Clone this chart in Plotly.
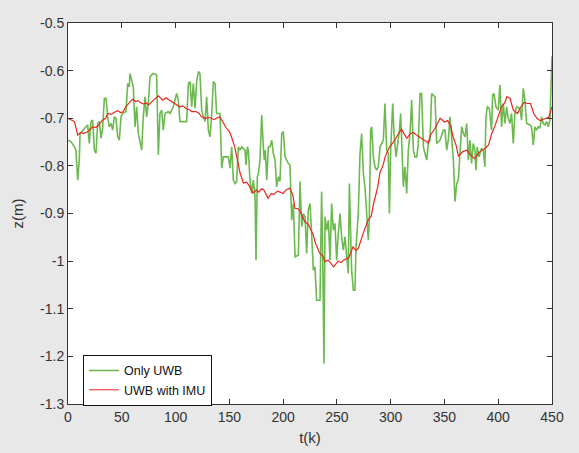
import plotly.graph_objects as go

# ---- data ----
uwb_k = [0, 2.8, 5.9, 7.4, 9.0, 10.5, 11.2, 13.6, 16.7, 18.3, 19.8, 21.4, 22.9, 24.5, 26.0, 27.6, 29.1, 30.7, 32.2,
         33.8, 35.3, 36.9, 38.4, 40.0, 41.5, 43.1, 44.6, 46.2, 47.7, 49.3, 50.8, 53.9, 55.5, 57.0,
         57.6, 60.7, 62.3, 63.8, 65.4, 68.5, 70.0, 71.6, 73.1, 74.7, 76.2, 77.8, 79.3, 82.4, 84.0, 85.5, 87.1,
         88.6, 90.2, 93.3,
         94.8, 97.9, 99.5, 101.0, 102.6, 104.1, 110.3, 111.9, 113.4, 115.0, 116.5, 118.1, 119.6, 121.2, 122.7,
         124.3, 125.8, 127.4, 128.9, 130.5, 132.0, 133.6, 135.1, 136.7, 138.2, 141.3, 142.9, 144.4, 149.1, 150.6,
         152.2, 153.7, 155.3, 156.8, 158.4, 159.9, 161.5, 164.6, 165.5, 166.8, 167.7, 169.2, 170.8, 172.3, 173.9,
         174.8, 176.0, 177.0, 178.5, 180.1, 181.6, 182.5, 183.5, 184.7, 186.3,
         187.8, 189.4, 190.9, 192.5, 194.0, 195.6, 197.1, 198.7, 200.2, 201.8, 204.9, 206.4, 208.0, 209.5, 211.1,
         214.2, 215.7, 217.3, 218.8, 220.4, 221.9, 223.4, 225.0, 226.5, 228.1, 229.6, 231.2, 234.3, 235.8, 236.8,
         238.0, 239.0, 240.5, 242.1, 243.6, 245.1, 246.7, 248.2, 249.8, 251.3, 252.9, 254.4, 256.0, 257.5, 259.1,
         260.6, 261.6, 262.8, 263.7, 265.3, 266.8, 267.8, 269.0, 269.9, 271.5, 273.0, 274.6, 276.1, 277.7, 279.2,
         280.1, 281.4,
         282.3, 283.9, 285.4, 287.0, 288.5, 290.1, 293.2, 294.7, 296.3, 297.8, 298.8, 300.0, 301.9, 303.1, 305.0,
         306.2, 308.1, 309.3, 310.6, 311.8, 313.3, 314.9, 316.4, 318.0, 319.5, 321.1, 322.6, 324.2, 325.7, 327.3,
         328.8, 330.4, 331.9, 333.5, 335.0, 336.6, 338.1, 341.2, 342.8, 345.9, 349.0, 350.5, 352.1, 353.6, 355.2,
         356.7, 358.3, 359.8, 361.4, 362.9, 364.5, 366.0, 367.6, 369.1, 370.7, 372.2,
         373.7, 375.2, 376.8, 378.3, 379.3, 380.5, 382.1, 384.5, 386.1, 387.6, 388.6, 389.8, 391.7, 392.9, 393.8,
         394.8, 396.0, 397.9, 400.0, 401.6, 403.1, 404.7, 406.2, 407.8, 409.3, 410.9, 412.4, 414.0, 415.5, 417.1,
         420.2, 421.7, 423.3, 424.8, 426.4, 429.5, 431.0, 432.6, 434.1, 435.7, 437.2, 438.8, 440.3, 441.9, 443.4,
         445.0, 446.5, 448.1, 449.0, 449.6, 450.0]
uwb_z = [-0.746, -0.749, -0.760, -0.767, -0.830, -0.788, -0.732, -0.725, -0.718, -0.714, -0.753, -0.707, -0.704,
         -0.767, -0.774, -0.711, -0.707, -0.742, -0.721, -0.658, -0.658, -0.697, -0.718, -0.711, -0.725, -0.697,
         -0.700, -0.739, -0.746, -0.697, -0.690, -0.686, -0.627, -0.634,
         -0.606, -0.634, -0.718, -0.676, -0.732, -0.767, -0.697, -0.655, -0.697, -0.669, -0.613, -0.609, -0.606,
         -0.609, -0.777, -0.690, -0.683, -0.725, -0.690, -0.686,
         -0.690, -0.676, -0.662, -0.648, -0.662, -0.707, -0.707, -0.627, -0.623, -0.676, -0.627, -0.679, -0.623,
         -0.602, -0.606, -0.683, -0.697, -0.707, -0.655, -0.725, -0.739, -0.693, -0.623, -0.627, -0.690, -0.690,
         -0.805, -0.781, -0.781, -0.805, -0.760, -0.830, -0.837, -0.833, -0.760, -0.767, -0.760, -0.767, -0.798,
         -0.760, -0.767, -0.830, -0.858, -0.830, -0.865, -0.998, -0.823, -0.816, -0.788, -0.693, -0.760, -0.788,
         -0.767, -0.830, -0.760,
         -0.760, -0.746, -0.774, -0.788, -0.844, -0.823, -0.833, -0.732, -0.728, -0.781, -0.795, -0.798, -0.914,
         -0.879, -0.991, -0.987, -0.833, -0.928, -0.900, -0.907, -0.984, -0.893, -0.879, -0.942, -1.019, -1.012,
         -1.082, -1.082, -0.854, -0.984, -1.215, -0.907, -0.935, -0.914, -0.998, -0.879, -0.935, -0.921, -0.998,
         -0.942, -0.900, -0.949, -0.977, -0.949, -0.998, -1.026, -0.837, -0.935, -1.019, -1.061, -1.061, -0.970,
         -0.921, -0.900, -0.774, -0.732, -0.816, -0.844, -0.900, -0.956, -0.914, -0.725,
         -0.718, -0.781, -0.802, -0.809, -0.802, -0.760, -0.746, -0.669, -0.767, -0.774, -0.900, -0.767, -0.669,
         -0.732, -0.781, -0.760, -0.725, -0.690, -0.753, -0.844, -0.802, -0.858, -0.767, -0.732, -0.662, -0.767,
         -0.781, -0.781, -0.753, -0.648, -0.648, -0.760, -0.774, -0.788, -0.753, -0.746, -0.648, -0.655, -0.753,
         -0.746, -0.725, -0.725, -0.767, -0.746, -0.697, -0.746, -0.788, -0.875, -0.837, -0.830, -0.767, -0.718,
         -0.732, -0.739, -0.711, -0.788,
         -0.746, -0.795, -0.753, -0.767, -0.809, -0.760, -0.781, -0.763, -0.767, -0.802, -0.697, -0.676, -0.679,
         -0.711, -0.725, -0.651, -0.648, -0.676, -0.683, -0.630, -0.718, -0.669, -0.711, -0.676, -0.700, -0.711,
         -0.690, -0.753, -0.690, -0.676, -0.679, -0.704, -0.637, -0.662, -0.711, -0.714, -0.718, -0.756, -0.718,
         -0.725, -0.718, -0.721, -0.697, -0.711, -0.714, -0.707, -0.718, -0.704, -0.655, -0.585, -0.570]

imu_k = [0, 3, 6, 9, 12, 14, 18, 21, 23, 26, 28, 32, 35, 37, 40, 42, 46, 49, 51, 54, 56, 60, 63, 65, 68, 70, 73,
         75, 79, 82, 84, 88, 91, 93, 96, 98, 101, 104, 107, 110, 113, 115, 119, 122, 124, 128, 131, 133, 136, 138,
         141, 144, 147, 150, 152, 155, 157, 160, 163, 166, 168, 172, 175, 177, 180, 182, 186, 189, 191, 195, 198,
         200, 203, 206, 209, 211, 214, 216, 220, 223, 225, 228, 230, 234, 237, 239, 242, 244, 247, 251, 254, 256,
         259, 261, 265, 268, 270, 273, 275, 279, 282, 284, 288, 290, 293, 295, 299, 302, 305, 308, 310, 313, 315,
         318, 321, 325, 329, 332, 335, 337, 341, 346, 350, 353, 356, 358, 361, 363, 367, 371, 374, 378, 383, 386,
         388, 391, 394, 397, 399, 403, 406, 408, 411, 414, 418, 420, 424, 427, 430, 433, 436, 439, 442, 445, 447,
         450]
imu_z = [-0.700, -0.703, -0.707, -0.735, -0.730, -0.732, -0.729, -0.722, -0.718, -0.719, -0.716, -0.704, -0.700,
         -0.690, -0.692, -0.689, -0.684, -0.688, -0.687, -0.675, -0.670, -0.660, -0.665, -0.663, -0.668, -0.670,
         -0.668, -0.672, -0.663, -0.658, -0.653, -0.662, -0.657, -0.660, -0.664, -0.668, -0.672, -0.676, -0.674,
         -0.680, -0.682, -0.686, -0.686, -0.690, -0.697, -0.700, -0.698, -0.700, -0.703, -0.700, -0.697, -0.708,
         -0.720, -0.728, -0.739, -0.760, -0.781, -0.815, -0.836, -0.834, -0.840, -0.857, -0.851, -0.855, -0.848,
         -0.850, -0.868, -0.858, -0.860, -0.853, -0.856, -0.858, -0.850, -0.847, -0.860, -0.889, -0.890, -0.896,
         -0.917, -0.922, -0.930, -0.945, -0.962, -0.983, -0.990, -1.001, -0.998, -1.004, -1.012, -1.000, -1.003,
         -0.998, -0.995, -0.993, -0.970, -0.978, -0.973, -0.950, -0.938, -0.914, -0.905, -0.880, -0.844, -0.815,
         -0.798, -0.780, -0.760, -0.752, -0.740, -0.730, -0.723, -0.735, -0.742, -0.733, -0.730, -0.737, -0.742,
         -0.747, -0.752, -0.735, -0.722, -0.700, -0.708, -0.705, -0.718, -0.739, -0.758, -0.780, -0.770, -0.767,
         -0.777, -0.785, -0.770, -0.766, -0.763, -0.756, -0.732, -0.716, -0.704, -0.676, -0.668, -0.655, -0.658,
         -0.683, -0.690, -0.680, -0.667, -0.669, -0.669, -0.690, -0.700, -0.705, -0.702, -0.700, -0.698, -0.676]

x_ticks = [0, 50, 100, 150, 200, 250, 300, 350, 400, 450]
y_ticks = [-1.3, -1.2, -1.1, -1.0, -0.9, -0.8, -0.7, -0.6, -0.5]
y_tick_text = ["-1.3", "-1.2", "-1.1", "-1", "-0.9", "-0.8", "-0.7", "-0.6", "-0.5"]

fig = go.Figure()
fig.add_trace(go.Scatter(x=uwb_k, y=uwb_z, mode="lines", name="Only UWB",
                         line=dict(color="#6cb94f", width=1.6)))
fig.add_trace(go.Scatter(x=imu_k, y=imu_z, mode="lines", name="UWB with IMU",
                         line=dict(color="#e8271e", width=1.2)))

axis_common = dict(showline=True, linecolor="#333333", linewidth=1, mirror="ticks",
                   ticks="inside", ticklen=5, tickcolor="#333333", showgrid=False, zeroline=False,
                   tickfont=dict(family="Liberation Sans, Arial, sans-serif", size=14, color="#333333"))

fig.update_layout(
    width=579, height=453,
    paper_bgcolor="#e8e8e8", plot_bgcolor="white",
    margin=dict(l=68, r=27, t=23, b=49, autoexpand=False),
    font=dict(family="Liberation Sans, Arial, sans-serif", size=13, color="#333333"),
    xaxis=dict(range=[0, 450], tickvals=x_ticks, ticktext=[str(v) for v in x_ticks],
               title=dict(text="t(k)", standoff=8, font=dict(size=15)), **axis_common),
    yaxis=dict(range=[-1.3, -0.5], tickvals=y_ticks, ticktext=y_tick_text,
               title=dict(text="z(m)", standoff=12, font=dict(size=15)), **axis_common),
    legend=dict(x=0.031, y=0.129, xanchor="left", yanchor="top", bgcolor="white",
                bordercolor="#111111", borderwidth=1, font=dict(size=12.5, color="#111111"),
                tracegroupgap=0, itemwidth=30),
    showlegend=True,
)

fig.write_html(
    "out.html",
    config={"displayModeBar": False},
    post_script="document.body.style.margin='0';document.body.style.background='#e8e8e8';"
                "document.body.style.overflow='hidden';",
)
